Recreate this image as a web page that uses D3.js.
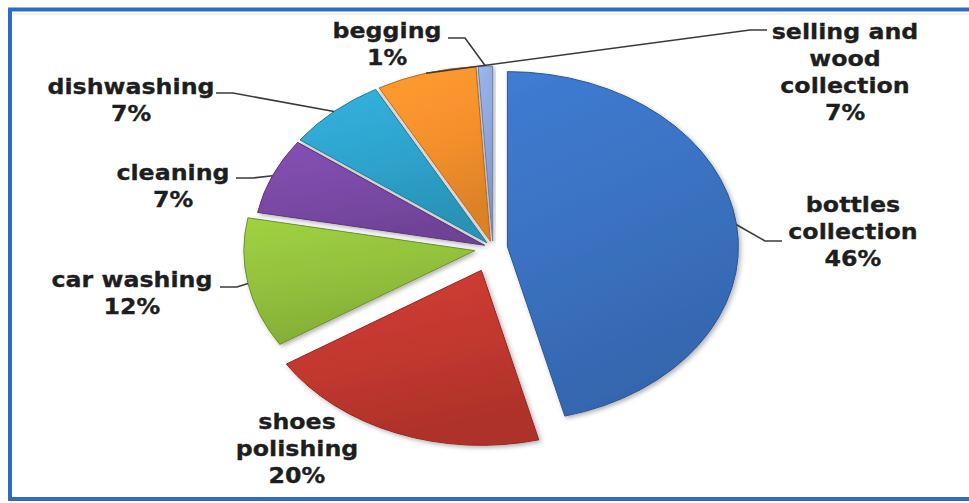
<!DOCTYPE html>
<html>
<head>
<meta charset="utf-8">
<script src="https://cdn.jsdelivr.net/npm/d3@7"></script>
<style>
  html, body { margin: 0; padding: 0; background: #fff; }
  svg { display: block; }
</style>
</head>
<body>
<div id="chart"></div>
<script>
// categories clockwise from 12 o'clock
const categories = ["bottles collection", "shoes polishing", "car washing", "cleaning", "dishwashing", "selling and wood collection", "begging"]
const values = [46, 20, 12, 7, 7, 7, 1]
// how the label text wraps
const labelLines = [["bottles", "collection"], ["shoes", "polishing"], ["car washing"], ["cleaning"], ["dishwashing"], ["selling and", "wood", "collection"], ["begging"]]

const colors = ["#3a71c0", "#c2382f", "#92c03c", "#7a4aa6", "#2ea3cc", "#f4902c", "#8ea7db"]
// how far each slice is pulled out
const explode = [11, 24, 14, 7, 7, 7, 7]

// label placement: centre x, first baseline, where the leader meets the text, which way it turns
const labelPos = [
  { x: 853, y: 212, lx: 782, ly: 241, dir: -1 },
  { x: 297, y: 429, lx: null },
  { x: 132, y: 287, lx: 220, ly: 287, dir: 1 },
  { x: 173, y: 180, lx: 236, ly: 178, dir: 1 },
  { x: 131, y: 94, lx: 216, ly: 93, dir: 1 },
  { x: 845, y: 39, lx: 767, ly: 30, dir: -1 },
  { x: 387, y: 38, lx: 448, ly: 38, dir: 1 }
]

const W = 969, H = 503
const cx = 493, cy = 248
const R = 175
const sx = 1.32   // the picture is stretched sideways
const lineH = 27

const svg = d3.select("#chart").append("svg")
  .attr("width", W)
  .attr("height", H)

const defs = svg.append("defs")

colors.forEach((c, i) => {
  const g = defs.append("linearGradient")
    .attr("id", "grad" + i)
    .attr("x1", 0).attr("y1", 0).attr("x2", 0.3).attr("y2", 1)
  g.append("stop").attr("offset", "0%").attr("stop-color", d3.color(c).brighter(0.25))
  g.append("stop").attr("offset", "55%").attr("stop-color", c)
  g.append("stop").attr("offset", "100%").attr("stop-color", d3.color(c).darker(0.3))
})

const shadow = defs.append("filter").attr("id", "shadow")
  .attr("x", "-10%").attr("y", "-10%").attr("width", "130%").attr("height", "130%")
shadow.append("feDropShadow")
  .attr("dx", 1.5).attr("dy", 2).attr("stdDeviation", 2)
  .attr("flood-color", "#000").attr("flood-opacity", 0.3)

// frame
svg.append("rect")
  .attr("x", 10).attr("y", 9.5)
  .attr("width", 990).attr("height", 489.5)
  .attr("fill", "none")
  .attr("stroke", "#2d6cc6")
  .attr("stroke-width", 4)
svg.append("line")
  .attr("x1", 13).attr("x2", W).attr("y1", 14).attr("y2", 14)
  .attr("stroke", "#fbefe0").attr("stroke-width", 2)

const pie = d3.pie().sort(null).value(d => d)
const arcs = pie(values)

const arc = d3.arc().innerRadius(0).outerRadius(R)

const pieG = svg.append("g")
  .attr("transform", `translate(${cx},${cy}) scale(${sx},1)`)

pieG.selectAll("path")
  .data(arcs)
  .enter()
  .append("path")
  .attr("d", arc)
  .attr("transform", (d, i) => {
    const m = (d.startAngle + d.endAngle) / 2
    return `translate(${explode[i] * Math.sin(m)},${-explode[i] * Math.cos(m)})`
  })
  .attr("fill", (d, i) => `url(#grad${i})`)
  .attr("stroke", (d, i) => d3.color(colors[i]).darker(0.8))
  .attr("stroke-width", 1)
  .attr("vector-effect", "non-scaling-stroke")
  .attr("filter", "url(#shadow)")

// point on the outer edge at the middle of a slice, in page coordinates
function edgePoint (d, i) {
  const m = (d.startAngle + d.endAngle) / 2
  const r = R + explode[i]
  return [cx + sx * r * Math.sin(m), cy - r * Math.cos(m)]
}

// leader lines
arcs.forEach((d, i) => {
  const p = labelPos[i]
  if (p.lx == null) return
  const e = edgePoint(d, i)
  const pts = [[p.lx, p.ly], [p.lx + p.dir * 17, p.ly], e]
  svg.append("path")
    .attr("d", d3.line()(pts))
    .attr("fill", "none")
    .attr("stroke", "#3a3a3a")
    .attr("stroke-width", 1.6)
})

// labels
arcs.forEach((d, i) => {
  const p = labelPos[i]
  const lines = labelLines[i].concat([values[i] + "%"])
  const t = svg.append("text")
    .attr("transform", `translate(${p.x},${p.y}) scale(1.13,1)`)
    .attr("text-anchor", "middle")
    .style("font-family", "'DejaVu Sans', Verdana, sans-serif")
    .style("font-weight", "bold")
    .style("font-size", "21px")
    .attr("fill", "#1e1e1e")
    .attr("stroke", "#1e1e1e")
    .attr("stroke-width", 0.3)
  lines.forEach((s, j) => {
    t.append("tspan")
      .attr("x", 0)
      .attr("y", j * lineH)
      .text(s)
  })
})
</script>
</body>
</html>
